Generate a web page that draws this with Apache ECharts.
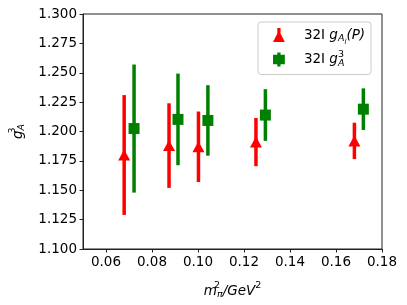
<!DOCTYPE html>
<html>
<head>
<meta charset="utf-8">
<script src="https://cdn.jsdelivr.net/npm/echarts@6/dist/echarts.min.js"></script>
<style>html,body{margin:0;padding:0;background:#fff}#c{width:407px;height:305px}</style>
</head>
<body>
<div id="c"></div>
<script>
// m_pi^2 (GeV^2) positions
const redX   = [0.0679, 0.0874, 0.1002, 0.1252, 0.1680];
const redY   = [1.180, 1.188, 1.187, 1.191, 1.192];
const redErr = [0.051, 0.036, 0.030, 0.0205, 0.0155];
const greenX   = [0.0722, 0.0913, 0.1043, 0.1293, 0.1719];
const greenY   = [1.2025, 1.2103, 1.2094, 1.2140, 1.2190];
const greenErr = [0.0545, 0.039, 0.030, 0.022, 0.0177];
const xTicks = [0.06, 0.08, 0.10, 0.12, 0.14, 0.16, 0.18];
const seriesNames = ['32I gAl(P)', '32I gA3'];

const FONT = 'DejaVu Sans';
const FS = 13.5;
const RED = '#ff0000', GREEN = '#008000';

function errData(xs, ys, es) { return xs.map((x, i) => [x, ys[i] - es[i], ys[i] + es[i]]); }
function ptData(xs, ys) { return xs.map((x, i) => [x, ys[i]]); }
function errSeries(name, color, data) {
  return {
    type: 'custom', name: name, z: 2,
    data: data,
    encode: { x: 0, y: [1, 2] },
    renderItem: function (params, api) {
      const p1 = api.coord([api.value(0), api.value(1)]);
      const p2 = api.coord([api.value(0), api.value(2)]);
      return { type: 'line', shape: { x1: p1[0], y1: p1[1], x2: p2[0], y2: p2[1] },
               style: { stroke: color, lineWidth: 3.5 } };
    }
  };
}
const rich = {
  n:   { fontFamily: FONT, fontSize: FS, color: '#000' },
  i:   { fontFamily: FONT, fontSize: FS, fontStyle: 'italic', color: '#000' },
  sub: { fontFamily: FONT, fontSize: 9.5, fontStyle: 'italic', color: '#000', padding: [8, 0, 0, 0] },
  subsub: { fontFamily: FONT, fontSize: 7, fontStyle: 'italic', color: '#000', padding: [14, 0, 0, 0] },
  sup: { fontFamily: FONT, fontSize: 9.5, color: '#000', padding: [0, 0, 10, 0] },
  sup0:{ fontFamily: FONT, fontSize: 9.5, color: '#000', padding: [0, 0, 10, 0], width: 0 },
  sp:  { width: 14 }
};

const chart = echarts.init(document.getElementById('c'), null, { renderer: 'canvas' });
chart.setOption({
  animation: false,
  backgroundColor: '#fff',
  grid: { left: 77, right: 25, top: 14, bottom: 54, show: true, borderColor: '#222', borderWidth: 1, backgroundColor: 'transparent' },
  legend: {
    left: 258, top: 22, orient: 'vertical',
    padding: [6, 6, 6, 15], itemGap: 4,
    itemWidth: 12, itemHeight: 14,
    borderColor: '#cccccc', borderWidth: 1, borderRadius: 3, backgroundColor: '#fff',
    data: [
      { name: seriesNames[0], icon: 'path://M4,0 L7,0 L7,5 L11,13 L0,13 L4,5 Z', itemStyle: { color: RED } },
      { name: seriesNames[1], icon: 'path://M4,0 L7,0 L7,2 L11,2 L11,11 L7,11 L7,13 L4,13 L4,11 L0,11 L0,2 L4,2 Z', itemStyle: { color: GREEN } }
    ],
    formatter: function (name) {
      if (name === seriesNames[0]) return '{sp|}{n|32I }{i|g}{sub|A}{subsub|l}{i|(P)}';
      return '{sp|}{n|32I }{i|g}{sup0|3}{sub|A}';
    },
    textStyle: { rich: rich }
  },
  xAxis: {
    type: 'value', min: 0.05, max: 0.18,
    name: '{i|m}{sup0|2}{sub|π}{i|/GeV}{sup|2}',
    nameLocation: 'middle', nameGap: 32,
    nameTextStyle: { rich: rich },
    axisLine: { show: true, lineStyle: { color: '#222', width: 1 } },
    axisTick: { show: true, inside: false, length: 3.5, customValues: xTicks, lineStyle: { color: '#222' } },
    axisLabel: { customValues: xTicks, formatter: v => v.toFixed(2), fontFamily: FONT, fontSize: FS, color: '#000', margin: 6 },
    splitLine: { show: false }
  },
  yAxis: {
    type: 'value', min: 1.1, max: 1.3, interval: 0.025,
    name: '{i|g}{sup0|3}{sub|A}',
    nameLocation: 'middle', nameGap: 55, nameRotate: 90,
    nameTextStyle: { rich: rich },
    axisLine: { show: true, lineStyle: { color: '#222', width: 1 } },
    axisTick: { show: true, inside: false, length: 3.5, lineStyle: { color: '#222' } },
    axisLabel: { formatter: v => v.toFixed(3), fontFamily: FONT, fontSize: FS, color: '#000', margin: 6 },
    splitLine: { show: false }
  },
  series: [
    errSeries('redErr', RED, errData(redX, redY, redErr)),
    { type: 'scatter', name: seriesNames[0], z: 3, symbol: 'triangle', symbolSize: [12, 11],
      itemStyle: { color: RED, opacity: 1 }, data: ptData(redX, redY) },
    errSeries('greenErr', GREEN, errData(greenX, greenY, greenErr)),
    { type: 'scatter', name: seriesNames[1], z: 3, symbol: 'rect', symbolSize: [11, 11],
      itemStyle: { color: GREEN, opacity: 1 }, data: ptData(greenX, greenY) }
  ]
});
</script>
</body>
</html>
